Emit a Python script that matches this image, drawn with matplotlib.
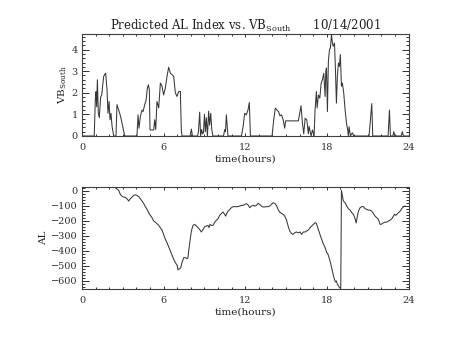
import matplotlib.pyplot as plt
from matplotlib.ticker import MultipleLocator

# VB_South
vb_time = [0, 0.90, 0.98, 1.03, 1.08, 1.13, 1.20, 1.27, 1.37, 1.45,
           1.52, 1.59, 1.67, 1.74, 1.84, 1.91, 1.99, 2.06, 2.13, 2.21,
           2.33, 2.50, 2.57, 2.70, 2.84, 2.99, 3.14, 4.04, 4.12, 4.19,
           4.29, 4.41, 4.49, 4.61, 4.71, 4.80, 4.88, 4.95, 5.00, 5.27,
           5.34, 5.42, 5.51, 5.64, 5.76, 5.88, 6.00, 6.12, 6.25, 6.37,
           6.50, 6.62, 6.74, 6.86, 6.98, 7.11, 7.23, 7.30, 7.35, 7.95,
           8.04, 8.12, 8.50, 8.56, 8.65, 8.72, 8.80, 8.86, 8.93, 9.00,
           9.07, 9.14, 9.22, 9.31, 9.38, 9.46, 9.54, 9.62, 10.40, 10.49,
           10.55, 10.61, 10.73, 11.72, 11.84, 11.96, 12.08, 12.20, 12.30, 12.38,
           13.97, 14.09, 14.21, 14.33, 14.45, 14.55, 14.67, 14.79, 14.90, 14.97,
           15.90, 15.96, 16.10, 16.20, 16.30, 16.40, 16.52, 16.64, 16.69, 16.84,
           16.94, 17.06, 17.13, 17.23, 17.28, 17.38, 17.48, 17.58, 17.67, 17.77,
           17.87, 17.92, 17.97, 18.04, 18.11, 18.19, 18.26, 18.34, 18.41, 18.46,
           18.56, 18.63, 18.70, 18.77, 18.85, 18.92, 18.99, 19.07, 19.14, 19.24,
           19.34, 19.44, 19.53, 19.58, 19.63, 19.73, 19.87, 19.97, 21.10, 21.20,
           21.30, 21.37, 22.50, 22.60, 22.67, 22.85, 22.92, 22.99, 23.45, 23.55,
           23.62, 24.0]
vb_south = [0, 0, 1.70, 2.05, 1.35, 2.60, 1.05, 0.85, 1.80, 1.90,
            2.35, 2.75, 2.85, 2.90, 2.15, 1.05, 1.60, 0.75, 1.05, 0.45,
            0, 0, 1.45, 1.20, 0.90, 0.45, 0, 0, 0.98, 0.36,
            0.90, 1.20, 1.13, 1.45, 1.65, 2.20, 2.37, 2.14, 0.28, 0.28,
            0.75, 0.30, 1.60, 1.30, 2.45, 2.30, 1.90, 2.20, 2.76, 3.18,
            2.90, 2.84, 2.76, 2.00, 1.83, 2.06, 2.06, 0.30, 0, 0,
            0.32, 0, 0, 0.20, 1.10, 0, 0.30, 0.10, 0.15, 1.00,
            0.20, 0.85, 0, 1.15, 0.50, 1.05, 0.30, 0, 0, 0.30,
            0.20, 0.98, 0, 0, 0.43, 1.05, 0.98, 1.20, 1.55, 0,
            0, 0.74, 1.29, 1.20, 1.13, 0.93, 0.98, 0.74, 0.36, 0.70,
            0.70, 0.90, 1.40, 0.60, 0.10, 0.82, 0.75, 0.10, 0.45, 0,
            0.28, 0, 1.20, 2.06, 1.30, 1.90, 1.75, 2.45, 2.60, 2.90,
            1.83, 3.00, 3.15, 1.13, 3.45, 4.00, 4.08, 4.70, 4.30, 4.15,
            4.30, 3.07, 1.52, 2.76, 3.38, 3.22, 3.77, 2.30, 2.45, 1.98,
            1.20, 0.60, 0.28, 0, 0.43, 0, 0.15, 0, 0, 0.74,
            1.50, 0, 0, 1.20, 0, 0, 0.20, 0, 0, 0.20,
            0, 0]

# AL index
al_time = [2.45, 2.57, 2.70, 2.82, 2.94, 3.06, 3.19, 3.31, 3.43, 3.55,
           3.68, 3.80, 3.92, 4.04, 4.17, 4.29, 4.41, 4.53, 4.66, 4.78,
           4.90, 5.02, 5.15, 5.27, 5.39, 5.51, 5.64, 5.76, 5.88, 6.00,
           6.13, 6.25, 6.37, 6.50, 6.62, 6.74, 6.86, 6.99, 7.06, 7.16,
           7.25, 7.35, 7.48, 7.60, 7.72, 7.79, 7.84, 7.94, 8.04, 8.16,
           8.28, 8.41, 8.53, 8.65, 8.77, 8.90, 9.02, 9.14, 9.26, 9.34,
           9.41, 9.51, 9.63, 9.76, 9.88, 10.00, 10.12, 10.25, 10.37, 10.49,
           10.56, 10.64, 10.74, 10.86, 10.98, 11.11, 11.23, 11.35, 11.47, 11.59,
           11.72, 11.84, 11.96, 12.09, 12.21, 12.33, 12.45, 12.57, 12.70, 12.82,
           12.94, 13.06, 13.19, 13.31, 13.43, 13.55, 13.68, 13.80, 13.92, 14.04,
           14.17, 14.29, 14.41, 14.53, 14.66, 14.78, 14.90, 15.02, 15.15, 15.27,
           15.39, 15.51, 15.64, 15.76, 15.91, 16.03, 16.15, 16.27, 16.40, 16.52,
           16.64, 16.76, 16.89, 17.01, 17.13, 17.23, 17.33, 17.43, 17.53, 17.62,
           17.75, 17.87, 17.99, 18.06, 18.16, 18.26, 18.36, 18.46, 18.55, 18.63,
           18.70, 18.77, 18.85, 18.92, 19.02, 19.07, 19.14, 19.21, 19.34, 19.46,
           19.58, 19.71, 19.83, 19.95, 20.07, 20.15, 20.22, 20.32, 20.44, 20.56,
           20.69, 20.81, 20.93, 21.05, 21.18, 21.30, 21.42, 21.54, 21.67, 21.79,
           21.91, 21.99, 22.08, 22.18, 22.28, 22.40, 22.52, 22.65, 22.77, 22.89,
           22.97, 23.06, 23.14, 23.26, 23.38, 23.50, 23.63, 23.75]
al_index = [20, 12, 3, -25, -36, -42, -44, -53, -69, -53,
            -42, -31, -27, -31, -40, -53, -68, -84, -106, -124,
            -146, -164, -180, -202, -209, -220, -231, -246, -262, -291,
            -324, -346, -373, -401, -430, -457, -479, -497, -528, -519,
            -515, -479, -446, -446, -453, -446, -401, -335, -268, -231,
            -224, -235, -246, -258, -275, -258, -240, -235, -231, -246,
            -224, -231, -231, -209, -196, -187, -164, -151, -142, -157,
            -169, -151, -136, -124, -113, -106, -106, -106, -106, -102,
            -98, -98, -91, -86, -95, -113, -102, -98, -102, -98,
            -84, -91, -102, -108, -108, -106, -106, -102, -91, -80,
            -84, -98, -124, -142, -151, -157, -169, -191, -235, -268,
            -284, -291, -280, -275, -280, -275, -291, -275, -275, -268,
            -262, -246, -235, -224, -213, -218, -246, -275, -302, -324,
            -357, -379, -413, -418, -446, -479, -519, -557, -590, -608,
            -601, -623, -634, -645, -652, 2, -35, -68, -80, -102,
            -120, -129, -146, -157, -185, -215, -180, -136, -113, -106,
            -106, -120, -124, -129, -129, -136, -151, -169, -180, -191,
            -224, -224, -218, -213, -209, -209, -202, -196, -187, -169,
            -157, -164, -157, -146, -136, -120, -106, -102]

x_ticks = [0, 6, 12, 18, 24]
title_text = 'Predicted AL Index vs. VB$_{\\mathregular{South}}$      10/14/2001'

plt.rcParams['font.family'] = 'DejaVu Serif'
plt.rcParams['mathtext.fontset'] = 'dejavuserif'

fig = plt.figure(figsize=(4.54, 3.41), dpi=100)
ax1 = fig.add_axes([0.1806, 0.6012, 0.7192, 0.2991])
ax2 = fig.add_axes([0.1806, 0.1525, 0.7192, 0.2991])

line_col = '#383838'
ax1.plot(vb_time, vb_south, color=line_col, lw=0.75)
ax2.plot(al_time, al_index, color=line_col, lw=0.75)

ax1.set_ylim(0, 4.72)
ax2.set_ylim(-655, 25)
ax1.yaxis.set_major_locator(MultipleLocator(1))
ax1.yaxis.set_minor_locator(MultipleLocator(0.2))
ax2.yaxis.set_major_locator(MultipleLocator(100))
ax2.yaxis.set_minor_locator(MultipleLocator(20))

for ax in (ax1, ax2):
    ax.set_xlim(0, 24)
    ax.set_xticks(x_ticks)
    ax.xaxis.set_minor_locator(MultipleLocator(1))
    ax.set_xlabel('time(hours)', fontsize=7.5, labelpad=2, color='#202020')
    ax.tick_params(axis='both', which='both', direction='in', top=True, right=True,
                   labelsize=7, colors='#303030', width=0.7)
    ax.tick_params(axis='x', which='major', length=2, pad=5)
    ax.tick_params(axis='x', which='minor', length=1.5)
    ax.tick_params(axis='y', which='major', length=4.7, pad=3)
    ax.tick_params(axis='y', which='minor', length=2.4)
    for sp in ax.spines.values():
        sp.set_color('#404040')
        sp.set_linewidth(0.8)

ax1.set_ylabel('VB$_{\\mathregular{South}}$', fontsize=7.5, labelpad=2, color='#202020')
ax2.set_ylabel('AL', fontsize=7.5, labelpad=2, color='#202020')
ax1.set_title(title_text, fontsize=8.5, pad=3, color='#202020')

fig.savefig('out.png', dpi=100)
